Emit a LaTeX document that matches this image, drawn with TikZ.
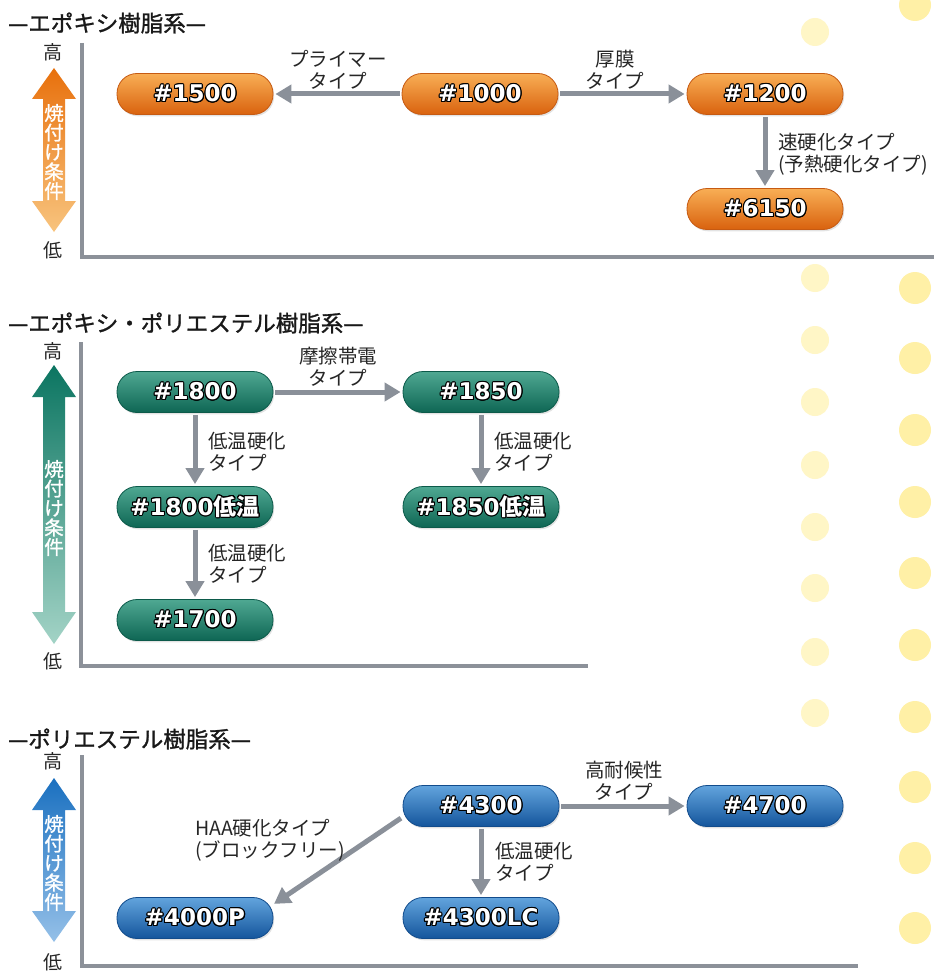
\documentclass[tikz,border=0pt]{standalone}
\usepackage{fontspec}
\usepackage{contour}
\contourlength{1.1pt}
\setmainfont{Noto Sans CJK JP}
\newfontfamily\jpfb{Noto Sans CJK JP}[FakeBold=1.2]
\newfontfamily\numf{DejaVu Sans}
\usetikzlibrary{arrows.meta,shadows}
\definecolor{conngray}{HTML}{8A9099}
\definecolor{axisgray}{HTML}{8C9199}
\definecolor{orT}{HTML}{F8AE55}
\definecolor{orM}{HTML}{F08A28}
\definecolor{orB}{HTML}{D9620E}
\definecolor{orD}{HTML}{C65A12}
\definecolor{grT}{HTML}{4FA892}
\definecolor{grM}{HTML}{1E8670}
\definecolor{grB}{HTML}{0E6654}
\definecolor{grD}{HTML}{0C5A4A}
\definecolor{blT}{HTML}{62A4DD}
\definecolor{blM}{HTML}{2676C0}
\definecolor{blB}{HTML}{14559C}
\definecolor{blD}{HTML}{124C8C}
\definecolor{arOT}{HTML}{E8700C}
\definecolor{arOB}{HTML}{F8C47E}
\definecolor{arGT}{HTML}{0B7561}
\definecolor{arGB}{HTML}{A3D3C6}
\definecolor{arBT}{HTML}{1A70C0}
\definecolor{arBB}{HTML}{95C0E8}
\definecolor{dotL}{HTML}{FFF6C6}
\definecolor{dotR}{HTML}{FFF0A6}
\newcommand\pillfont{\fontsize{23}{23}\selectfont\numf\bfseries}
\newcommand\lblfont{\fontsize{19.5}{22}\selectfont}
\newcommand\lvlfont{\fontsize{19}{19}\selectfont}
\newcommand\vertfont{\fontsize{19.5}{19.5}\selectfont\jpfb}
\newcommand\ttlfont{\fontsize{22.5}{22.5}\selectfont\jpfb}
\begin{document}
\begin{tikzpicture}[x=1pt,y=-1pt,
  pill/.style={rounded corners=20pt, minimum width=156pt, minimum height=41pt, inner sep=0pt, text=white, font=\pillfont, line width=0.8pt, drop shadow={shadow xshift=1.2pt, shadow yshift=-1.8pt, opacity=0.22}},
  opill/.style={pill, top color=orT, middle color=orM, bottom color=orB, draw=orD},
  gpill/.style={pill, top color=grT, middle color=grM, bottom color=grB, draw=grD},
  bpill/.style={pill, top color=blT, middle color=blM, bottom color=blB, draw=blD},
  conn/.style={draw=conngray, line width=5pt, -{Triangle[width=18pt,length=16pt]}, shorten <=2pt, shorten >=2pt},
  lbl/.style={font=\lblfont, inner sep=0pt, text=black!85},
  lblc/.style={lbl, align=center},
  lbll/.style={lbl, align=left, anchor=west},
  axisline/.style={draw=axisgray, line width=3.5pt},
  lvl/.style={font=\lvlfont, inner sep=0pt, text=black!85},
  vtext/.style={font=\vertfont, text=white, align=center, inner sep=0pt},
  ttl/.style={font=\ttlfont, inner sep=0pt, anchor=west, text=black!90},
]
\useasboundingbox (0,0) rectangle (934,971);
\fill[white] (0,0) rectangle (934,971);
% decorative dots
\foreach \yy in {32,278,340,402,465,527,588,652,713} \fill[dotL] (815,\yy) circle (14pt);
\foreach \yy in {5,288,358,430,502,573,645,717,787,858,928} \fill[dotR] (915,\yy) circle (16pt);

% ===== Section 1 =====
\node[ttl] (t1) at (8,23) {—エポキシ樹脂系—};
\draw[axisline] (82,43) -- (82,257) -- (934,257);
\node[lvl] (hi1) at (53,52) {高};
\node[lvl] (lo1) at (53,250) {低};
\shade[top color=arOT, bottom color=arOB] (54,68) -- (76,99) -- (65,99) -- (65,201) -- (76,201) -- (54,232) -- (32,201) -- (43,201) -- (43,99) -- (32,99) -- cycle;
\node[vtext] (v1) at (54,152) {焼\\付\\け\\条\\件};

\node[opill] (n1500) at (195,94) {\contour{black}{\#1500}};
\node[opill] (n1000) at (480,94) {\contour{black}{\#1000}};
\node[opill] (n1200) at (765,94) {\contour{black}{\#1200}};
\node[opill] (n6150) at (765,209) {\contour{black}{\#6150}};
\draw[conn] (n1000) -- (n1500);
\draw[conn] (n1000) -- (n1200);
\draw[conn] (n1200) -- (n6150);
\node[lblc] (la) at (338,70) {プライマー\\タイプ};
\node[lblc] (lb) at (615,70) {厚膜\\タイプ};
\node[lbll] (lc) at (778,154) {速硬化タイプ\\(予熱硬化タイプ)};

% ===== Section 2 =====
\node[ttl] (t2) at (8,323) {—エポキシ・ポリエステル樹脂系—};
\draw[axisline] (81,342) -- (81,666) -- (588,666);
\node[lvl] (hi2) at (53,351) {高};
\node[lvl] (lo2) at (53,661) {低};
\shade[top color=arGT, bottom color=arGB] (54,365) -- (76,397) -- (65,397) -- (65,612) -- (76,612) -- (54,644) -- (32,612) -- (43,612) -- (43,397) -- (32,397) -- cycle;
\node[vtext] (v2) at (54,508) {焼\\付\\け\\条\\件};

\node[gpill] (n1800) at (195,392) {\contour{black}{\#1800}};
\node[gpill] (n1850) at (481,392) {\contour{black}{\#1850}};
\node[gpill] (n1800L) at (195,507) {\contour{black}{\#1800{\bfseries\rmfamily 低温}}};
\node[gpill] (n1850L) at (481,507) {\contour{black}{\#1850{\bfseries\rmfamily 低温}}};
\node[gpill] (n1700) at (195,620) {\contour{black}{\#1700}};
\draw[conn] (n1800) -- (n1850);
\draw[conn] (n1800) -- (n1800L);
\draw[conn] (n1800L) -- (n1700);
\draw[conn] (n1850) -- (n1850L);
\node[lblc] (ld) at (338,367) {摩擦帯電\\タイプ};
\node[lbll] (le) at (208,452) {低温硬化\\タイプ};
\node[lbll] (lf) at (208,564) {低温硬化\\タイプ};
\node[lbll] (lg) at (494,452) {低温硬化\\タイプ};

% ===== Section 3 =====
\node[ttl] (t3) at (8,739) {—ポリエステル樹脂系—};
\draw[axisline] (82,755) -- (82,966) -- (858,966);
\node[lvl] (hi3) at (53,761) {高};
\node[lvl] (lo3) at (53,962) {低};
\shade[top color=arBT, bottom color=arBB] (54,778) -- (76,810) -- (65,810) -- (65,911) -- (76,911) -- (54,942) -- (32,911) -- (43,911) -- (43,810) -- (32,810) -- cycle;
\node[vtext] (v3) at (54,863) {焼\\付\\け\\条\\件};

\node[bpill] (n4300) at (481,806) {\contour{black}{\#4300}};
\node[bpill] (n4700) at (765,806) {\contour{black}{\#4700}};
\node[bpill] (n4300LC) at (481,918) {\contour{black}{\#4300LC}};
\node[bpill] (n4000P) at (195,918) {\contour{black}{\#4000P}};
\draw[conn] (n4300) -- (n4700);
\draw[conn] (n4300) -- (n4300LC);
\draw[conn] ([yshift=-11pt]n4300.west) -- ([yshift=13pt,xshift=-1pt]n4000P.east);
\node[lblc] (lh) at (624,781) {高耐候性\\タイプ};
\node[lbll] (li) at (495,862) {低温硬化\\タイプ};
\node[lbll] (lj) at (195,840) {HAA硬化タイプ\\(ブロックフリー)};
\end{tikzpicture}
\end{document}
